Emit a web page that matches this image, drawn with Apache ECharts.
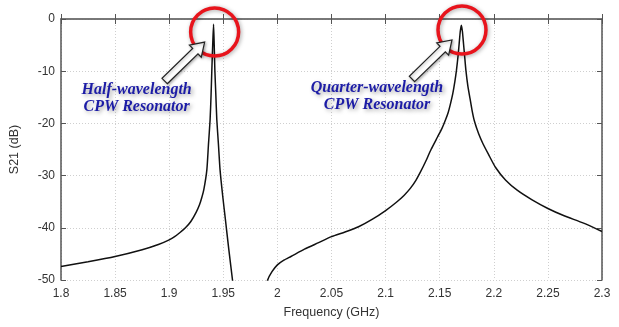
<!DOCTYPE html>
<html><head><meta charset="utf-8">
<script src="https://cdn.jsdelivr.net/npm/echarts@6/dist/echarts.min.js"></script>
<style>html,body{margin:0;padding:0;background:#fff}#c{width:619px;height:327px}</style>
</head><body><div id="c"></div>
<script>
// Frequency (GHz) and S21 (dB)
const freq = [1.80,1.825,1.85,1.875,1.89,1.90,1.905,1.91,1.915,1.92,1.925,1.928,1.93,1.932,1.9348,1.9363,1.9378,1.9387,1.9394,1.9402,1.941,1.9416,1.9422,1.9431,1.944,1.9455,1.947,1.9495,1.952,1.955,1.9585,1.963,1.97,1.982,1.988,1.991,1.995,2.00,2.006,2.0125,2.025,2.0375,2.05,2.0625,2.075,2.0875,2.10,2.11,2.117,2.123,2.128,2.132,2.137,2.142,2.148,2.152,2.1554,2.158,2.160,2.162,2.164,2.1655,2.167,2.168,2.169,2.170,2.171,2.172,2.173,2.1742,2.176,2.178,2.180,2.182,2.186,2.19,2.195,2.2015,2.211,2.2216,2.235,2.25,2.265,2.283,2.30];
const s21  = [-47.4,-46.5,-45.5,-44.2,-43.2,-42.3,-41.7,-40.9,-40.0,-38.8,-37.0,-35.6,-34.3,-32.7,-28.9,-24.0,-19.3,-14.5,-9.8,-5.0,-1.0,-5.0,-9.8,-14.5,-19.3,-24.0,-28.9,-34.0,-38.5,-44.0,-50.0,-58.0,-68.0,-60.0,-53.0,-50.0,-48.4,-47.1,-46.2,-45.5,-44.1,-42.9,-41.7,-40.8,-39.8,-38.4,-36.7,-35.1,-33.8,-32.4,-30.9,-29.4,-27.3,-25.0,-22.6,-21.0,-19.3,-17.8,-16.2,-14.4,-12.0,-9.8,-7.0,-4.7,-2.4,-1.2,-2.4,-4.7,-7.0,-9.8,-12.8,-15.2,-17.6,-19.5,-22.0,-23.9,-25.9,-28.4,-30.9,-32.8,-34.6,-36.3,-37.7,-39.1,-40.7];
const yTicks = [0,-10,-20,-30,-40,-50];
const xTicks = [1.8,1.85,1.9,1.95,2,2.05,2.1,2.15,2.2,2.25,2.3];
const peaks = [[1.942,-2.5],[2.1706,-2.1]];
const notes = ['Half-wavelength\nCPW Resonator','Quarter-wavelength\nCPW Resonator'];

const chart = echarts.init(document.getElementById('c'));
const axisCol = '#555';
const gridLine = {show:true,lineStyle:{color:'#cfcfcf',type:[1,2],width:1}};
chart.setOption({
  animation:false,
  backgroundColor:'#fff',
  grid:{left:60,right:17,top:19,bottom:47},
  xAxis:[{
    type:'value',min:1.8,max:2.3,interval:0.05,
    name:'Frequency (GHz)',nameLocation:'middle',nameGap:26,
    nameTextStyle:{color:'#333',fontFamily:'Liberation Sans',fontSize:12.5},
    axisLine:{lineStyle:{color:axisCol,width:1.5}},
    axisTick:{inside:true,length:5,lineStyle:{color:axisCol}},
    axisLabel:{color:'#333',fontFamily:'Liberation Sans',fontSize:12,margin:8,
      formatter:v=>String(+v.toFixed(2))},
    splitLine:gridLine
  },{
    type:'value',position:'top',min:1.8,max:2.3,interval:0.05,
    axisLine:{show:true,lineStyle:{color:'#777',width:1.5}},
    axisTick:{inside:true,length:5,lineStyle:{color:axisCol}},
    axisLabel:{show:false},splitLine:{show:false}
  }],
  yAxis:[{
    type:'value',min:-50,max:0,interval:10,
    name:'S21 (dB)',nameLocation:'middle',nameGap:40,nameRotate:90,
    nameTextStyle:{color:'#333',fontFamily:'Liberation Sans',fontSize:12.5},
    axisLine:{show:true,lineStyle:{color:axisCol,width:1.5}},
    axisTick:{show:true,inside:true,length:5,lineStyle:{color:axisCol}},
    axisLabel:{color:'#333',fontFamily:'Liberation Sans',fontSize:12,margin:6},
    splitLine:gridLine
  },{
    type:'value',position:'right',min:-50,max:0,interval:10,
    axisLine:{show:true,lineStyle:{color:axisCol,width:1.5}},
    axisTick:{show:true,inside:true,length:5,lineStyle:{color:axisCol}},
    axisLabel:{show:false},splitLine:{show:false}
  }],
  series:[{
    type:'line',data:freq.map((f,i)=>[f,s21[i]]),
    showSymbol:false,clip:true,smooth:0.2,
    lineStyle:{color:'#111',width:1.5}
  }]
});

function arrowPoly(tail, tip){
  const dx=tip[0]-tail[0], dy=tip[1]-tail[1];
  const L=Math.hypot(dx,dy), ux=dx/L, uy=dy/L, px=-uy, py=ux;
  const sw=3.8, hw=8.5, hl=13;
  const bx=tip[0]-ux*hl, by=tip[1]-uy*hl;
  return [
    [tail[0]+px*sw,tail[1]+py*sw],[bx+px*sw,by+py*sw],[bx+px*hw,by+py*hw],
    tip,[bx-px*hw,by-py*hw],[bx-px*sw,by-py*sw],[tail[0]-px*sw,tail[1]-py*sw]
  ];
}
const gr=[];
const textOff=[-78,-85];
peaks.forEach((p,i)=>{
  const c=chart.convertToPixel({xAxisIndex:0,yAxisIndex:0},p);
  gr.push({type:'circle',shape:{cx:c[0],cy:c[1],r:24},
    style:{fill:null,stroke:'#e8141c',lineWidth:3.5,shadowBlur:4,shadowColor:'rgba(0,0,0,0.35)',shadowOffsetX:1,shadowOffsetY:1},z:10});
  gr.push({type:'polygon',shape:{points:arrowPoly([c[0]-50,c[1]+49],[c[0]-10,c[1]+10])},
    style:{fill:'#fff',stroke:'#222',lineWidth:1.2,shadowBlur:3,shadowColor:'rgba(0,0,0,0.3)',shadowOffsetX:1,shadowOffsetY:1},z:10});
  gr.push({type:'text',x:c[0]+textOff[i],y:c[1]+49,
    style:{text:notes[i],fill:'#1c1ca6',font:'italic bold 16px "Liberation Serif"',
      align:'center',verticalAlign:'top',lineHeight:17,
      textShadowColor:'rgba(0,0,0,0.35)',textShadowBlur:4,textShadowOffsetX:2,textShadowOffsetY:2},z:10});
});
chart.setOption({graphic:gr});
</script></body></html>
